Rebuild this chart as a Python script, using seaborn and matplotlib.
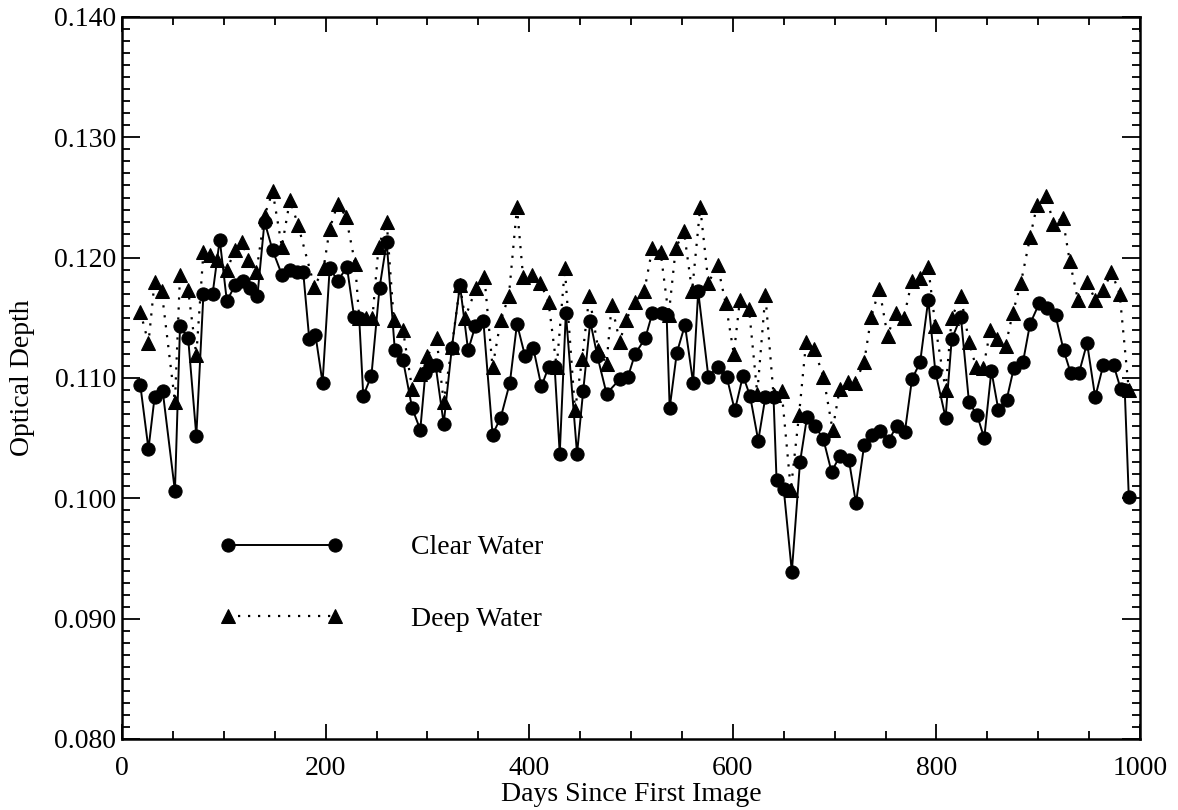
import matplotlib
matplotlib.use("Agg")
import matplotlib.pyplot as plt
import matplotlib.ticker as mticker
import seaborn as sns
import pandas as pd

clear_days = [18, 26, 32, 40, 52, 57, 65, 73, 80, 89, 96, 103, 111, 119, 126, 133, 140, 148, 157,
              165, 172, 178, 184, 190, 197, 204, 212, 221, 228, 233, 237, 245, 253, 260, 268, 276,
              285, 293, 298, 303, 308, 316, 324, 332, 340, 347, 355, 364, 372, 381, 388, 396, 404,
              412, 419, 425, 430, 436, 447, 453, 460, 467, 476, 489, 497, 504, 514, 521, 530, 535,
              538, 545, 553, 561, 566, 576, 585, 594, 602, 610, 617, 625, 632, 640, 643, 650, 658,
              666, 673, 681, 689, 697, 705, 714, 721, 729, 737, 745, 753, 761, 769, 776, 784, 792,
              799, 809, 815, 824, 832, 840, 847, 854, 861, 869, 876, 885, 892, 901, 909, 917, 925,
              932, 940, 948, 956, 964, 974, 981, 985, 989]
clear_vals = [0.1094, 0.1041, 0.1084, 0.1089, 0.1006, 0.1143, 0.1133, 0.1052, 0.1170, 0.1170,
              0.1215, 0.1164, 0.1177, 0.1181, 0.1175, 0.1168, 0.1230, 0.1206, 0.1186,
              0.1190, 0.1188, 0.1188, 0.1132, 0.1136, 0.1096, 0.1191, 0.1181, 0.1192, 0.1151,
              0.1150, 0.1085, 0.1102, 0.1175, 0.1213, 0.1123, 0.1115,
              0.1075, 0.1057, 0.1104, 0.1110, 0.1111, 0.1062, 0.1125, 0.1177, 0.1123, 0.1143,
              0.1147, 0.1053, 0.1067, 0.1096, 0.1145, 0.1118, 0.1125,
              0.1093, 0.1109, 0.1109, 0.1037, 0.1154, 0.1037, 0.1089, 0.1147, 0.1118, 0.1087,
              0.1099, 0.1101, 0.1120, 0.1133, 0.1154, 0.1154, 0.1152,
              0.1075, 0.1121, 0.1144, 0.1096, 0.1172, 0.1101, 0.1109, 0.1101, 0.1073, 0.1102,
              0.1085, 0.1048, 0.1084, 0.1084, 0.1015, 0.1008, 0.0939,
              0.1030, 0.1068, 0.1060, 0.1049, 0.1022, 0.1035, 0.1032, 0.0996, 0.1044, 0.1053,
              0.1056, 0.1048, 0.1060, 0.1055, 0.1099, 0.1113, 0.1165,
              0.1105, 0.1067, 0.1132, 0.1151, 0.1080, 0.1069, 0.1050, 0.1106, 0.1073, 0.1082,
              0.1108, 0.1113, 0.1145, 0.1162, 0.1158, 0.1152, 0.1123,
              0.1104, 0.1104, 0.1129, 0.1084, 0.1111, 0.1111, 0.1091, 0.1090, 0.1001]

deep_days = [18, 26, 32, 39, 52, 57, 65, 73, 80, 86, 93, 103, 111, 118, 124, 132, 140, 148, 157,
             165, 173, 189, 198, 204, 212, 220, 229, 233, 240, 246, 252, 260, 267, 276, 285, 293,
             300, 309, 316, 324, 332, 337, 348, 356, 364, 372, 380, 388, 394, 403, 411, 419, 427,
             435, 445, 452, 459, 468, 476, 481, 489, 495, 504, 513, 521, 529, 537, 544, 552, 560,
             568, 576, 585, 593, 601, 607, 616, 624, 632, 640, 648, 657, 665, 672, 680, 689, 698,
             705, 713, 720, 729, 736, 744, 752, 760, 768, 776, 784, 792, 799, 809, 815, 824, 832,
             839, 846, 853, 860, 868, 875, 883, 892, 899, 908, 915, 924, 931, 939, 948, 956, 964,
             972, 980, 989]
deep_vals = [0.1155, 0.1129, 0.1180, 0.1172, 0.1080, 0.1186, 0.1173, 0.1119, 0.1205, 0.1202,
             0.1198, 0.1190, 0.1206, 0.1213, 0.1198, 0.1188, 0.1235, 0.1255, 0.1209,
             0.1248, 0.1227, 0.1176, 0.1191, 0.1224, 0.1245, 0.1234, 0.1195, 0.1150, 0.1150,
             0.1150, 0.1209, 0.1230, 0.1148, 0.1140, 0.1091, 0.1103,
             0.1118, 0.1133, 0.1080, 0.1126, 0.1177, 0.1150, 0.1175, 0.1184, 0.1109, 0.1148,
             0.1168, 0.1242, 0.1184, 0.1186, 0.1179, 0.1163, 0.1109,
             0.1191, 0.1073, 0.1116, 0.1168, 0.1123, 0.1112, 0.1161, 0.1130, 0.1148, 0.1163,
             0.1172, 0.1208, 0.1205, 0.1152, 0.1208, 0.1222, 0.1172,
             0.1242, 0.1179, 0.1194, 0.1162, 0.1120, 0.1165, 0.1157, 0.1087, 0.1169, 0.1086,
             0.1089, 0.1007, 0.1069, 0.1130, 0.1124, 0.1101, 0.1057,
             0.1091, 0.1097, 0.1096, 0.1113, 0.1151, 0.1174, 0.1135, 0.1154, 0.1150, 0.1181,
             0.1183, 0.1192, 0.1143, 0.1090, 0.1150, 0.1168, 0.1130,
             0.1109, 0.1108, 0.1140, 0.1132, 0.1127, 0.1154, 0.1179, 0.1217, 0.1244, 0.1251,
             0.1228, 0.1233, 0.1197, 0.1165, 0.1180, 0.1165, 0.1173,
             0.1188, 0.1170, 0.1090]

series_labels = ["Clear Water", "Deep Water"]
x_label = "Days Since First Image"
y_label = "Optical Depth"

sns.set_theme(style="ticks")
plt.rcParams["font.family"] = ["Liberation Serif", "DejaVu Serif"]
plt.rcParams["text.color"] = "black"
plt.rcParams["axes.labelcolor"] = "black"

FS = 20

fig = plt.figure(figsize=(11.78, 8.10), dpi=100)
ax = fig.add_axes([122 / 1178, 1 - 739 / 810, (1140 - 122) / 1178, (739 - 17) / 810])

df_clear = pd.DataFrame({"day": clear_days, "val": clear_vals})
df_deep = pd.DataFrame({"day": deep_days, "val": deep_vals})

sns.lineplot(data=df_clear, x="day", y="val", ax=ax, color="black", linewidth=1.4,
             marker="o", markersize=9.5, markeredgecolor="black", markerfacecolor="black",
             label=series_labels[0], sort=False)
sns.lineplot(data=df_deep, x="day", y="val", ax=ax, color="black", linewidth=1.6,
             linestyle=(0, (1, 3.5)), marker="^", markersize=10.5, markeredgecolor="black",
             markerfacecolor="black", label=series_labels[1], sort=False)

ax.set_xlim(0, 1000)
ax.set_ylim(0.080, 0.140)
ax.xaxis.set_major_locator(mticker.MultipleLocator(200))
ax.xaxis.set_minor_locator(mticker.MultipleLocator(50))
ax.yaxis.set_major_locator(mticker.MultipleLocator(0.010))
ax.yaxis.set_minor_locator(mticker.MultipleLocator(0.001))
ax.yaxis.set_major_formatter(mticker.FormatStrFormatter("%.3f"))

ax.tick_params(axis="both", which="both", direction="in", top=True, right=True,
               colors="black", labelsize=FS, width=1.3)
ax.tick_params(axis="y", which="major", length=13, pad=4)
ax.tick_params(axis="y", which="minor", length=6)
ax.tick_params(axis="x", which="major", length=11, pad=12)
ax.tick_params(axis="x", which="minor", length=5.5)
for s in ax.spines.values():
    s.set_linewidth(1.8)
    s.set_color("black")

ax.set_xlabel(x_label, fontsize=FS, color="black", labelpad=1)
ax.set_ylabel(y_label, fontsize=FS, color="black", labelpad=14)

leg = ax.legend(loc="upper left", bbox_to_anchor=(0.082, 0.302), frameon=False,
                handlelength=4.45, handletextpad=2.45, labelspacing=1.65, fontsize=FS,
                numpoints=2, borderpad=0)
for t in leg.get_texts():
    t.set_color("black")

fig.savefig("out.png", dpi=100)
